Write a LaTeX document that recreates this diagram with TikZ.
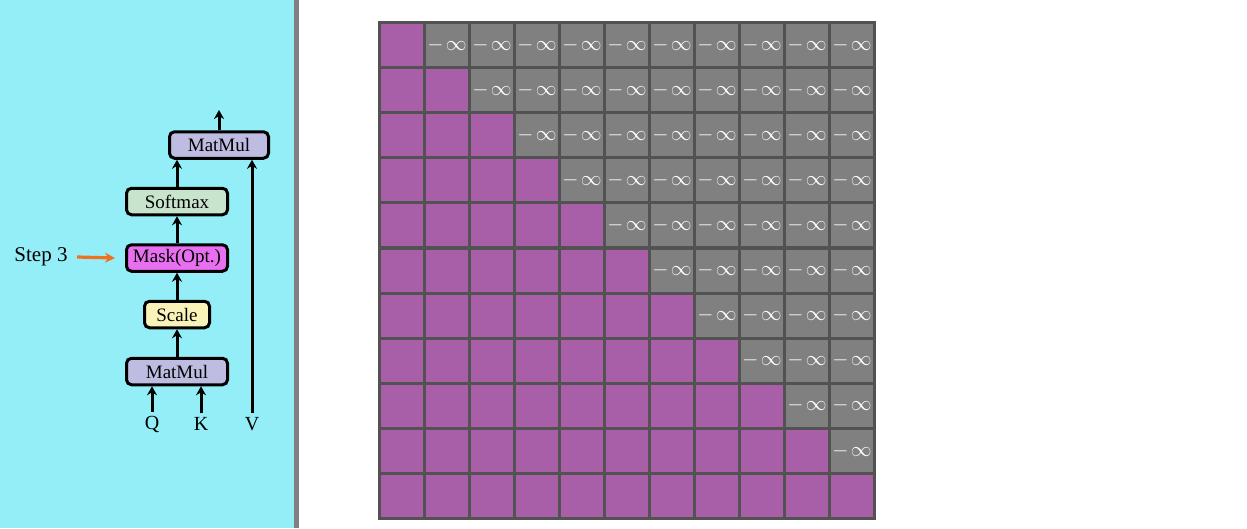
\documentclass[tikz,border=0pt]{standalone}
\usepackage{fontspec}
\setmainfont{Liberation Serif}
\usetikzlibrary{arrows.meta}
\definecolor{panelcyan}{RGB}{148,238,248}
\definecolor{divgray}{RGB}{128,128,128}
\definecolor{gridline}{RGB}{82,82,82}
\definecolor{cellmag}{RGB}{168,95,168}
\definecolor{cellgray}{RGB}{128,128,128}
\definecolor{mmfill}{RGB}{190,188,225}
\definecolor{smfill}{RGB}{200,228,205}
\definecolor{scfill}{RGB}{250,243,185}
\definecolor{mkfill}{RGB}{232,112,240}
\definecolor{steporange}{RGB}{240,112,32}

\begin{document}
\begin{tikzpicture}[x=1pt, y=-1pt,
  blk/.style={draw, line width=3pt, rounded corners=5pt, minimum height=26.5pt,
    inner sep=0pt, font=\fontsize{19}{19}\selectfont},
  lbl/.style={font=\fontsize{20}{20}\selectfont, inner sep=1pt},
  arr/.style={-{Stealth[length=9pt,width=10pt]}, line width=3pt},
  oarr/.style={-{Stealth[length=10pt,width=10pt]}, line width=3.2pt, draw=steporange},
  cpos/.style={fill=cellmag, minimum size=42pt, inner sep=0pt},
  cneg/.style={fill=cellgray, minimum size=42pt, inner sep=0pt, text=white,
    font=\fontsize{20}{20}\selectfont}]
\useasboundingbox (0,0) rectangle (1247,528);
% left panel
\fill[panelcyan] (0,0) rectangle (294,528);
\fill[divgray] (294,0) rectangle (299,528);
\node[blk, fill=mmfill, minimum width=99pt] (mm2) at (219,145) {MatMul};
\node[blk, fill=smfill, minimum width=101pt] (sm) at (177,201.5) {Softmax};
\node[blk, fill=mkfill, minimum width=101pt] (mask) at (177,258) {Mask(Opt.)};
\node[blk, fill=scfill, minimum width=65pt] (sc) at (177,314.5) {Scale};
\node[blk, fill=mmfill, minimum width=101pt] (mm1) at (177,371.5) {MatMul};
\node[lbl] (q) at (152,424) {Q};
\node[lbl] (k) at (201,424) {K};
\node[lbl] (v) at (252,424) {V};
\coordinate (out) at (219,110);
\draw[arr] ([yshift=3pt]q.north) -- (q.north |- mm1.south);
\draw[arr] ([yshift=3pt]k.north) -- (k.north |- mm1.south);
\draw[arr] ([yshift=3pt]v.north) -- (v.north |- mm2.south);
\draw[arr] (mm1) -- (sc);
\draw[arr] (sc) -- (mask);
\draw[arr] (mask) -- (sm);
\draw[arr] (sm.north) -- (sm.north |- mm2.south);
\draw[arr] (mm2.north) -- (out);
\node[font=\fontsize{21}{21}\selectfont] (step) at (41,257) {Step 3};
\draw[oarr] ([xshift=6pt]step.east) -- ([xshift=-10pt]mask.west);
% mask matrix
\fill[gridline] (378,21) rectangle (876,520);
\foreach \r in {0,...,10}
  \foreach \c in {0,...,10}{
    \ifnum\c>\r
      \node[cneg] (c-\r-\c) at (402+45*\c, 45+45.1*\r) {$-\mkern2mu\infty$};
    \else
      \node[cpos] (c-\r-\c) at (402+45*\c, 45+45.1*\r) {};
    \fi
  }
\end{tikzpicture}
\end{document}
